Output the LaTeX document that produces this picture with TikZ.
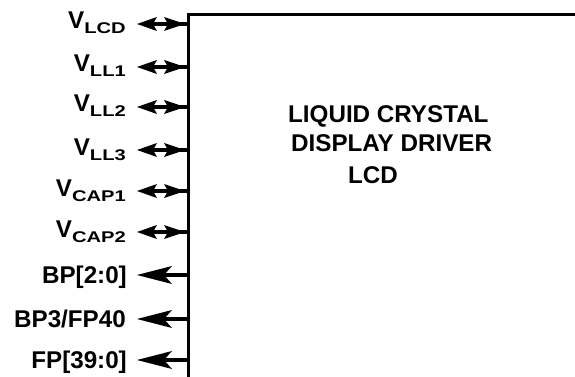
\documentclass[tikz,border=0pt]{standalone}
\usepackage{fontspec}
\setmainfont{Liberation Sans}
\tikzset{
  x=1pt, y=-1pt,
  chipbox/.style={draw, line width=3.4pt, minimum width=600pt, minimum height=600pt, anchor=north west, inner sep=0pt},
  lbl/.style={font=\bfseries\fontsize{24.2}{29}\selectfont, inner sep=0pt},
  pinline/.style={line width=3.4pt},
  headfill/.style={fill=black},
}
\newcommand{\sbs}[1]{\raisebox{-5pt}{\scalebox{1.3}[1]{\fontsize{15.5}{18}\selectfont #1}}}
\newcommand{\bihead}[1]{%
  \fill[headfill] (#1) -- ++(20pt,7pt) -- ++(-4pt,-7pt) -- ++(4pt,-7pt) -- cycle;
  \fill[headfill] ([xshift=48pt]#1) -- ++(-21pt,7pt) -- ++(4pt,-7pt) -- ++(-4pt,-7pt) -- cycle;}
\newcommand{\outhead}[1]{%
  \fill[headfill] (#1) -- ++(35pt,9pt) -- ++(-8pt,-9pt) -- ++(8pt,-9pt) -- cycle;}
\begin{document}
\begin{tikzpicture}
\useasboundingbox (0,0) rectangle (575,377);
\clip (0,0) rectangle (575,377);
\node[chipbox] (box) at (187,13) {};
% labels
\node[lbl, anchor=base east] (l1) at (126,29) {V\sbs{LCD}};
\node[lbl, anchor=base east] (l2) at (126,72) {V\sbs{LL1}};
\node[lbl, anchor=base east] (l3) at (126,112) {V\sbs{LL2}};
\node[lbl, anchor=base east] (l4) at (126,155) {V\sbs{LL3}};
\node[lbl, anchor=base east] (l5) at (126,196) {V\sbs{CAP1}};
\node[lbl, anchor=base east] (l6) at (126,237) {V\sbs{CAP2}};
\node[lbl, anchor=base east] (l7) at (127,283) {BP[2:0]};
\node[lbl, anchor=base east] (l8) at (126,327) {BP3/FP40};
\node[lbl, anchor=base east] (l9) at (127,368) {FP[39:0]};
% pin ends
\coordinate (c1) at (137,24);
\coordinate (c2) at (137,67);
\coordinate (c3) at (137,107);
\coordinate (c4) at (137,150);
\coordinate (c5) at (137,191);
\coordinate (c6) at (137,232);
\coordinate (c7) at (137,275);
\coordinate (c8) at (137,319);
\coordinate (c9) at (137,360);
\foreach \i in {1,...,6} {
  \draw[pinline] ([xshift=12pt]c\i) -- (c\i -| box.west);
  \bihead{c\i}
}
\foreach \i in {7,8,9} {
  \draw[pinline] ([xshift=20pt]c\i) -- (c\i -| box.west);
  \outhead{c\i}
}
% title
\node[lbl, anchor=base west] (t1) at (288,122) {LIQUID CRYSTAL};
\node[lbl, anchor=base west] (t2) at (291,151) {DISPLAY DRIVER};
\node[lbl, anchor=base west] (t3) at (348,183) {LCD};
\end{tikzpicture}
\end{document}
